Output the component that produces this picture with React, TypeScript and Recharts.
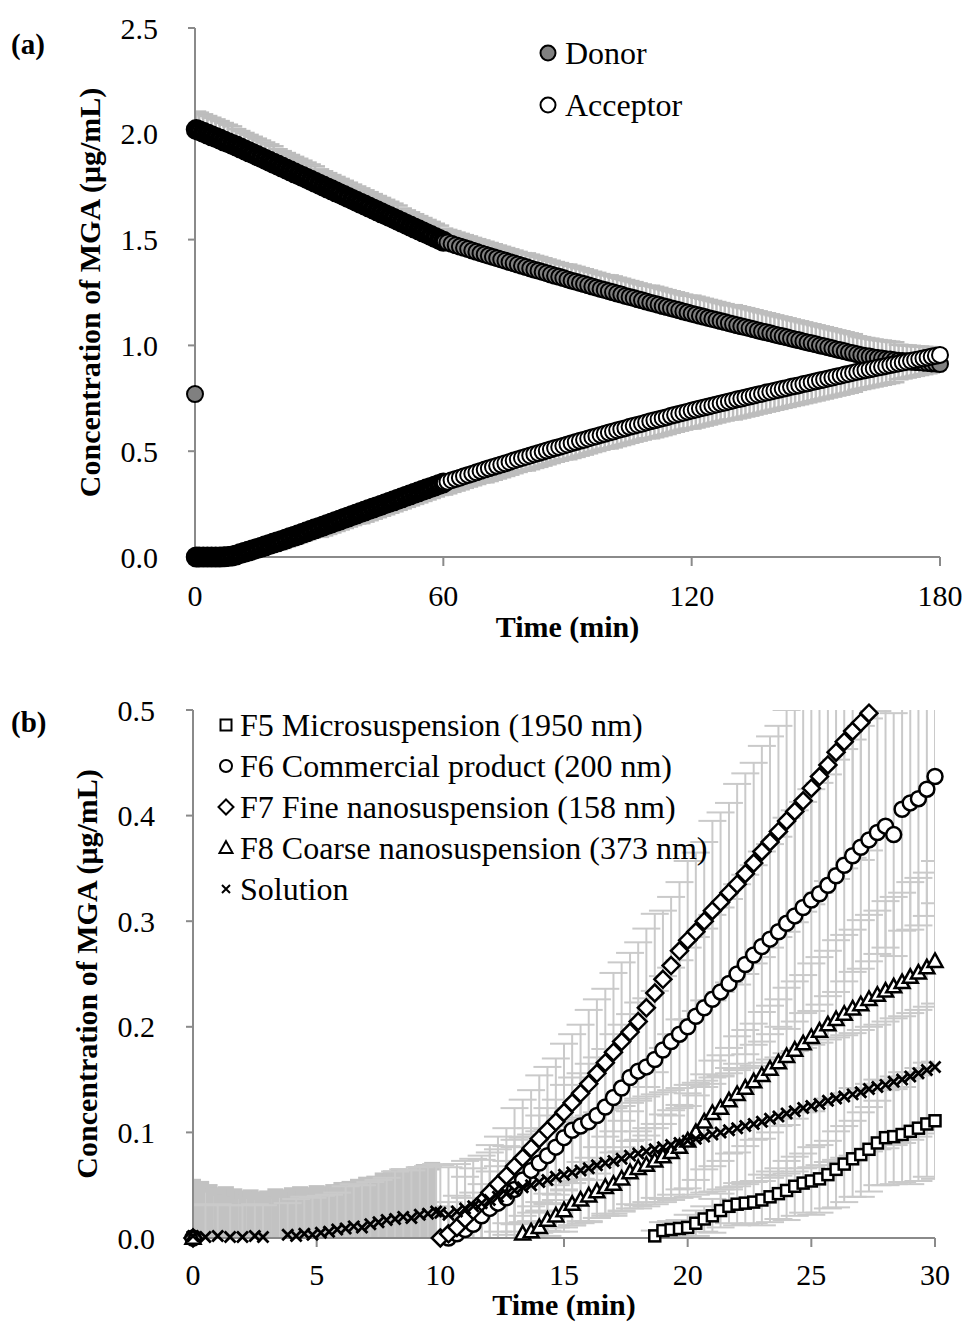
import { ScatterChart, Scatter, XAxis, YAxis, ErrorBar } from "recharts"

const FONT = '"Liberation Serif", "Times New Roman", serif'
const AXIS = "#8a8a8a"
const BAR_A = "#bdbdbd"
const BAR_B = "#cacaca"

// ---------- (a) donor / acceptor, about one reading a minute ----------
const aTime = [
  0, 0.3,
  1, 2, 3, 4, 5, 6, 7, 8, 9, 10,
  11, 12, 13, 14, 15, 16, 17, 18, 19, 20,
  21, 22, 23, 24, 25, 26, 27, 28, 29, 30,
  31, 32, 33, 34, 35, 36, 37, 38, 39, 40,
  41, 42, 43, 44, 45, 46, 47, 48, 49, 50,
  51, 52, 53, 54, 55, 56, 57, 58, 59, 60,
  61, 62, 63, 64, 65, 66, 67, 68, 69, 70,
  71, 72, 73, 74, 75, 76, 77, 78, 79, 80,
  81, 82, 83, 84, 85, 86, 87, 88, 89, 90,
  91, 92, 93, 94, 95, 96, 97, 98, 99, 100,
  101, 102, 103, 104, 105, 106, 107, 108, 109, 110,
  111, 112, 113, 114, 115, 116, 117, 118, 119, 120,
  121, 122, 123, 124, 125, 126, 127, 128, 129, 130,
  131, 132, 133, 134, 135, 136, 137, 138, 139, 140,
  141, 142, 143, 144, 145, 146, 147, 148, 149, 150,
  151, 152, 153, 154, 155, 156, 157, 158, 159, 160,
  161, 162, 163, 164, 165, 166, 167, 168, 169, 170,
  171, 172, 173, 174, 175, 176, 177, 178, 179, 180,
]

const donorConc = [
  0.77, 2.02,
  2.015, 2.007, 1.999, 1.991, 1.983, 1.975, 1.966, 1.958, 1.95, 1.942,
  1.933, 1.924, 1.915, 1.906, 1.897, 1.888, 1.879, 1.87, 1.861, 1.852,
  1.843, 1.834, 1.825, 1.816, 1.807, 1.798, 1.789, 1.78, 1.771, 1.762,
  1.753, 1.744, 1.735, 1.726, 1.717, 1.708, 1.699, 1.69, 1.681, 1.672,
  1.663, 1.654, 1.645, 1.636, 1.627, 1.618, 1.609, 1.6, 1.591, 1.582,
  1.573, 1.564, 1.555, 1.546, 1.537, 1.528, 1.519, 1.51, 1.501, 1.492,
  1.486, 1.48, 1.473, 1.467, 1.461, 1.455, 1.448, 1.442, 1.436, 1.43,
  1.424, 1.418, 1.412, 1.406, 1.4, 1.394, 1.388, 1.382, 1.376, 1.37,
  1.364, 1.358, 1.353, 1.347, 1.341, 1.335, 1.329, 1.324, 1.318, 1.312,
  1.306, 1.301, 1.295, 1.29, 1.284, 1.278, 1.273, 1.267, 1.262, 1.256,
  1.251, 1.245, 1.24, 1.234, 1.229, 1.224, 1.218, 1.213, 1.207, 1.202,
  1.197, 1.192, 1.186, 1.181, 1.176, 1.171, 1.166, 1.16, 1.155, 1.15,
  1.145, 1.14, 1.135, 1.13, 1.125, 1.12, 1.115, 1.11, 1.105, 1.1,
  1.095, 1.09, 1.086, 1.081, 1.076, 1.071, 1.066, 1.062, 1.057, 1.052,
  1.047, 1.043, 1.038, 1.033, 1.028, 1.024, 1.019, 1.014, 1.01, 1.005,
  1.0, 0.996, 0.991, 0.986, 0.981, 0.977, 0.972, 0.967, 0.963, 0.958,
  0.954, 0.95, 0.947, 0.943, 0.94, 0.938, 0.935, 0.933, 0.93, 0.928,
  0.926, 0.925, 0.923, 0.921, 0.92, 0.918, 0.917, 0.915, 0.914, 0.912,
]

const acceptorConc = [
  0, 0,
  0, 0, 0, 0, 0, 0, 0.001, 0.002, 0.005, 0.01,
  0.016, 0.022, 0.028, 0.034, 0.04, 0.046, 0.053, 0.059, 0.066, 0.072,
  0.078, 0.085, 0.092, 0.098, 0.105, 0.112, 0.119, 0.126, 0.133, 0.14,
  0.147, 0.154, 0.161, 0.168, 0.175, 0.182, 0.189, 0.196, 0.203, 0.21,
  0.217, 0.224, 0.231, 0.238, 0.245, 0.252, 0.259, 0.266, 0.273, 0.28,
  0.287, 0.294, 0.301, 0.308, 0.315, 0.322, 0.329, 0.336, 0.343, 0.35,
  0.356, 0.363, 0.369, 0.375, 0.382, 0.388, 0.394, 0.4, 0.407, 0.413,
  0.419, 0.425, 0.431, 0.437, 0.443, 0.449, 0.456, 0.462, 0.468, 0.474,
  0.48, 0.486, 0.491, 0.497, 0.503, 0.509, 0.515, 0.52, 0.526, 0.532,
  0.538, 0.543, 0.549, 0.554, 0.56, 0.566, 0.571, 0.577, 0.582, 0.588,
  0.593, 0.599, 0.604, 0.609, 0.615, 0.62, 0.625, 0.63, 0.636, 0.641,
  0.646, 0.651, 0.656, 0.661, 0.667, 0.672, 0.677, 0.682, 0.687, 0.692,
  0.697, 0.702, 0.706, 0.711, 0.716, 0.721, 0.726, 0.73, 0.735, 0.74,
  0.745, 0.749, 0.754, 0.758, 0.763, 0.768, 0.772, 0.777, 0.781, 0.786,
  0.79, 0.795, 0.799, 0.804, 0.808, 0.812, 0.817, 0.821, 0.826, 0.83,
  0.835, 0.839, 0.844, 0.848, 0.853, 0.857, 0.862, 0.866, 0.871, 0.875,
  0.879, 0.883, 0.887, 0.891, 0.895, 0.899, 0.903, 0.907, 0.911, 0.915,
  0.919, 0.923, 0.927, 0.931, 0.935, 0.939, 0.943, 0.947, 0.951, 0.955,
]

// SD read per 10-min stretch (0-9, 10-19, ... 170-180); donor bars point up, acceptor bars down
const donorSd = [0.085, 0.08, 0.075, 0.07, 0.07, 0.065, 0.06, 0.06, 0.065, 0.07, 0.075, 0.08, 0.085, 0.09, 0.09, 0.09, 0.085, 0.075, 0.06]
const acceptorSd = [0.005, 0.02, 0.035, 0.045, 0.05, 0.05, 0.055, 0.06, 0.065, 0.07, 0.075, 0.08, 0.085, 0.09, 0.09, 0.09, 0.085, 0.075, 0.065]

const aXTicks = [0, 60, 120, 180]
const aYTicks = [0, 0.5, 1, 1.5, 2, 2.5]

// ---------- (b) formulations, readings every 20 s from 10 min ----------
const bTime = [
  10, 10.33, 10.67, 11, 11.33, 11.67, 12, 12.33, 12.67, 13,
  13.33, 13.67, 14, 14.33, 14.67, 15, 15.33, 15.67, 16, 16.33,
  16.67, 17, 17.33, 17.67, 18, 18.33, 18.67, 19, 19.33, 19.67,
  20, 20.33, 20.67, 21, 21.33, 21.67, 22, 22.33, 22.67, 23,
  23.33, 23.67, 24, 24.33, 24.67, 25, 25.33, 25.67, 26, 26.33,
  26.67, 27, 27.33, 27.67, 28, 28.33, 28.67, 29, 29.33, 29.67,
  30,
]

// each formulation: a reading at 0 min, then from its lag time on
const f5Time = [0, ...bTime.slice(26)]
const f5Conc = [
  0,
  0.002, 0.007, 0.008, 0.009, 0.01, 0.014, 0.018, 0.021, 0.026, 0.03,
  0.032, 0.033, 0.034, 0.036, 0.039, 0.042, 0.045, 0.049, 0.052, 0.054,
  0.056, 0.06, 0.065, 0.07, 0.075, 0.079, 0.084, 0.09, 0.095, 0.096,
  0.098, 0.101, 0.104, 0.108, 0.111,
]

const f6Time = [0, ...bTime.slice(1)]
const f6Conc = [
  0,
  0, 0.004, 0.008, 0.013, 0.021, 0.028, 0.033, 0.038, 0.046, 0.055,
  0.064, 0.071, 0.078, 0.086, 0.095, 0.102, 0.106, 0.11, 0.116, 0.124,
  0.133, 0.142, 0.152, 0.158, 0.162, 0.169, 0.178, 0.186, 0.193, 0.2,
  0.21, 0.218, 0.226, 0.233, 0.241, 0.25, 0.259, 0.268, 0.276, 0.283,
  0.29, 0.298, 0.305, 0.313, 0.32, 0.326, 0.334, 0.343, 0.353, 0.362,
  0.37, 0.377, 0.384, 0.39, 0.382, 0.406, 0.412, 0.416, 0.425, 0.437,
]

const f7Time = [0, ...bTime.slice(0, 53)]
const f7Conc = [
  0,
  0, 0.004, 0.01, 0.018, 0.026, 0.034, 0.043, 0.051, 0.059, 0.068,
  0.076, 0.085, 0.094, 0.102, 0.11, 0.119, 0.128, 0.137, 0.146, 0.156,
  0.166, 0.176, 0.186, 0.195, 0.205, 0.218, 0.232, 0.245, 0.258, 0.272,
  0.282, 0.29, 0.3, 0.31, 0.318, 0.327, 0.335, 0.345, 0.355, 0.366,
  0.375, 0.385, 0.395, 0.404, 0.414, 0.426, 0.437, 0.448, 0.46, 0.47,
  0.48, 0.488, 0.497,
]

const f8Time = [0, ...bTime.slice(10)]
const f8Conc = [
  0,
  0.004, 0.006, 0.01, 0.017, 0.021, 0.026, 0.032, 0.036, 0.04, 0.044,
  0.048, 0.051, 0.056, 0.062, 0.066, 0.069, 0.073, 0.077, 0.081, 0.086,
  0.092, 0.1, 0.11, 0.118, 0.123, 0.13, 0.136, 0.142, 0.148, 0.154,
  0.16, 0.166, 0.172, 0.178, 0.184, 0.19, 0.196, 0.202, 0.207, 0.212,
  0.217, 0.221, 0.226, 0.23, 0.234, 0.238, 0.242, 0.247, 0.251, 0.256,
  0.262,
]

const solEarlyTime = [0, 0.5, 1, 1.5, 2, 2.5, 2.83, 3.83, 4.17, 4.5, 4.83, 5.17, 5.5, 5.83, 6.17, 6.5, 6.83, 7.17, 7.5, 7.83, 8.17, 8.5, 8.83, 9.17, 9.5, 9.83]
const solEarlyConc = [0.002, 0.001, 0.002, 0.001, 0.001, 0.002, 0.001, 0.003, 0.002, 0.004, 0.003, 0.005, 0.006, 0.008, 0.009, 0.011, 0.01, 0.013, 0.015, 0.017, 0.018, 0.02, 0.019, 0.022, 0.023, 0.025]
const solLateConc = [
  0.024, 0.022, 0.025, 0.028, 0.03, 0.033, 0.036, 0.039, 0.042, 0.045,
  0.048, 0.05, 0.053, 0.055, 0.058, 0.06, 0.062, 0.064, 0.066, 0.069,
  0.071, 0.073, 0.075, 0.078, 0.08, 0.082, 0.084, 0.086, 0.088, 0.09,
  0.092, 0.094, 0.096, 0.098, 0.1, 0.102, 0.104, 0.106, 0.108, 0.11,
  0.113, 0.115, 0.118, 0.12, 0.123, 0.125, 0.127, 0.13, 0.132, 0.134,
  0.136, 0.138, 0.141, 0.143, 0.145, 0.148, 0.15, 0.153, 0.156, 0.159,
  0.162,
]

// SD read per whole minute (index = minute 0..30)
const f5Sd = [0, 0, 0, 0, 0, 0, 0, 0, 0, 0, 0, 0, 0, 0, 0, 0, 0, 0, 0.005, 0.008, 0.012, 0.016, 0.02, 0.024, 0.028, 0.032, 0.036, 0.04, 0.045, 0.05, 0.055]
const f6Sd = [0, 0, 0, 0, 0, 0, 0, 0, 0, 0, 0.02, 0.03, 0.035, 0.04, 0.045, 0.05, 0.055, 0.06, 0.065, 0.07, 0.075, 0.08, 0.085, 0.09, 0.1, 0.105, 0.11, 0.115, 0.115, 0.12, 0.12]
const f7Sd = [0, 0, 0, 0, 0, 0, 0, 0, 0, 0, 0.03, 0.04, 0.045, 0.055, 0.06, 0.065, 0.07, 0.075, 0.075, 0.065, 0.075, 0.085, 0.095, 0.1, 0.105, 0.11, 0.12, 0.13, 0.13, 0.13, 0.13]
const f8Sd = [0, 0, 0, 0, 0, 0, 0, 0, 0, 0, 0, 0, 0, 0.01, 0.015, 0.02, 0.025, 0.03, 0.035, 0.04, 0.045, 0.05, 0.055, 0.06, 0.065, 0.07, 0.075, 0.08, 0.085, 0.09, 0.095]
const solSd = [0.03, 0.03, 0.03, 0.03, 0.035, 0.035, 0.04, 0.04, 0.045, 0.045, 0.045, 0.045, 0.045, 0.048, 0.048, 0.05, 0.05, 0.05, 0.052, 0.052, 0.053, 0.054, 0.055, 0.056, 0.057, 0.058, 0.058, 0.059, 0.06, 0.06, 0.06]

// pooled SD of the near-zero readings before 10 min (the grey block)
const blockTime = [0, 0.33, 0.67, 1, 1.33, 1.67, 2, 2.33, 2.67, 3, 3.33, 3.67, 4, 4.33, 4.67, 5, 5.33, 5.67, 6, 6.33, 6.67, 7, 7.33, 7.67, 8, 8.33, 8.67, 9, 9.33, 9.67]
const blockSd = [0.052, 0.05, 0.047, 0.044, 0.045, 0.043, 0.041, 0.042, 0.04, 0.041, 0.043, 0.042, 0.044, 0.045, 0.044, 0.046, 0.045, 0.047, 0.049, 0.05, 0.052, 0.054, 0.055, 0.058, 0.06, 0.062, 0.061, 0.064, 0.066, 0.068]

const bXTicks = [0, 5, 10, 15, 20, 25, 30]
const bYTicks = [0, 0.1, 0.2, 0.3, 0.4, 0.5]

type Row = { t: number; c: number; sd: number | number[] }

const donorRows: Row[] = aTime.map((t, i) => ({ t, c: donorConc[i], sd: [0, donorSd[Math.floor(t / 10)]] }))
const acceptorRows: Row[] = aTime.map((t, i) => ({ t, c: acceptorConc[i], sd: [acceptorSd[Math.floor(t / 10)], 0] }))

const perMinute = (times: number[], conc: number[], sd: number[]): Row[] =>
  times.map((t, i) => ({ t, c: conc[i], sd: sd[Math.floor(t + 0.001)] }))

const f5Rows = perMinute(f5Time, f5Conc, f5Sd)
const f6Rows = perMinute(f6Time, f6Conc, f6Sd)
const f7Rows = perMinute(f7Time, f7Conc, f7Sd)
const f8Rows = perMinute(f8Time, f8Conc, f8Sd)
const solRows = perMinute([...solEarlyTime, ...bTime], [...solEarlyConc, ...solLateConc], solSd)
const blockRows: Row[] = blockTime.map((t, i) => ({ t, c: 0, sd: blockSd[i] }))

const withSd = (rows: Row[]) => rows.filter((r) => (typeof r.sd === "number" ? r.sd > 0 : true))

// ---------- markers ----------
function mark(kind: string, cx: number, cy: number, s: number, sw: number, fill = "#fff") {
  const ink = { fill, stroke: "#000", strokeWidth: sw }
  switch (kind) {
    case "square":
      return <rect x={cx - s} y={cy - s} width={2 * s} height={2 * s} {...ink} />
    case "diamond":
      return <path d={`M${cx},${cy - s}L${cx + s},${cy}L${cx},${cy + s}L${cx - s},${cy}Z`} {...ink} />
    case "triangle":
      return <path d={`M${cx},${cy - s * 1.05}L${cx + s},${cy + s * 0.75}L${cx - s},${cy + s * 0.75}Z`} {...ink} />
    case "x":
      return <path d={`M${cx - s},${cy - s}L${cx + s},${cy + s}M${cx + s},${cy - s}L${cx - s},${cy + s}`} fill="none" stroke="#000" strokeWidth={sw} />
    default:
      return <circle cx={cx} cy={cy} r={s} {...ink} />
  }
}

const noMark = () => <g />

// the first hour is sampled so densely that the rims merge into a black band
const aDot = (fill: string) => (p: any) => {
  const t = p.payload?.t ?? 0
  return mark("circle", p.cx, p.cy, 8, t > 0 && t <= 60 ? 5 : 2, fill)
}

const bMark = (kind: string, s: number, sw = 2.5) => (p: any) => mark(kind, p.cx, p.cy, s, sw)

const tickStyle = { fill: "#000", fontSize: 30, fontFamily: FONT }
const titleStyle = { fill: "#000", fontSize: 30, fontFamily: FONT, fontWeight: 700, textAnchor: "middle" as const }
const axisLine = { stroke: AXIS, strokeWidth: 2 }

// error bars live in a twin chart whose box is clipped to the plot area, like the axis limits do in the original
function BarLayer({ w, h, m, xDomain, yDomain, children }: any) {
  const clip = `inset(${m.top}px ${m.right}px ${m.bottom}px ${m.left}px)`
  return (
    <div style={{ position: "absolute", left: 0, top: 0, width: w, height: h, clipPath: clip }}>
      <ScatterChart width={w} height={h} margin={m}>
        <XAxis type="number" dataKey="t" domain={xDomain} hide allowDataOverflow />
        <YAxis type="number" dataKey="c" domain={yDomain} hide allowDataOverflow />
        {children}
      </ScatterChart>
    </div>
  )
}

function PanelA() {
  return (
    <div style={{ position: "relative", width: 968, height: 700 }}>
      <BarLayer w={968} h={700} m={{ top: 28, right: 28, bottom: 143, left: 195 }} xDomain={[0, 180]} yDomain={[0, 2.5]}>
        <Scatter data={donorRows.slice(1)} shape={noMark} isAnimationActive={false}>
          <ErrorBar dataKey="sd" direction="y" width={10} stroke={BAR_A} strokeWidth={2.5} isAnimationActive={false} />
        </Scatter>
        <Scatter data={acceptorRows} shape={noMark} isAnimationActive={false}>
          <ErrorBar dataKey="sd" direction="y" width={10} stroke={BAR_A} strokeWidth={2.5} isAnimationActive={false} />
        </Scatter>
      </BarLayer>
      <div style={{ position: "absolute", left: 0, top: 0 }}>
        <ScatterChart width={968} height={700} margin={{ top: 28, right: 28, bottom: 0, left: 0 }}>
          <XAxis
            type="number"
            dataKey="t"
            domain={[0, 180]}
            ticks={aXTicks}
            axisLine={axisLine}
            tickLine={axisLine}
            tickSize={9}
            tickMargin={19}
            tick={tickStyle}
            height={143}
            label={{ value: "Time (min)", position: "insideTop", offset: 59, style: titleStyle }}
          />
          <YAxis
            type="number"
            dataKey="c"
            domain={[0, 2.5]}
            ticks={aYTicks}
            tickFormatter={(v: number) => v.toFixed(1)}
            axisLine={axisLine}
            tickLine={axisLine}
            tickSize={7}
            tickMargin={30}
            tick={tickStyle}
            width={195}
            label={{ value: "Concentration of MGA (μg/mL)", angle: -90, position: "insideLeft", offset: 89, style: titleStyle }}
          />
          <Scatter name="Donor" data={donorRows} shape={aDot("#808080")} isAnimationActive={false} />
          <Scatter name="Acceptor" data={acceptorRows} shape={aDot("#ffffff")} isAnimationActive={false} />
        </ScatterChart>
      </div>
    </div>
  )
}

function PanelB() {
  const bar = (rows: Row[], key: string) => (
    <Scatter key={key} data={withSd(rows)} shape={noMark} isAnimationActive={false}>
      <ErrorBar dataKey="sd" direction="y" width={14} stroke={BAR_B} strokeWidth={2} isAnimationActive={false} />
    </Scatter>
  )
  return (
    <div style={{ position: "relative", width: 968, height: 645 }}>
      <BarLayer w={968} h={645} m={{ top: 30, right: 33, bottom: 87, left: 193 }} xDomain={[0, 30]} yDomain={[0, 0.5]}>
        <Scatter data={blockRows} shape={noMark} isAnimationActive={false}>
          <ErrorBar dataKey="sd" direction="y" width={8} stroke="#c2c2c2" strokeWidth={8.6} isAnimationActive={false} />
        </Scatter>
        {bar(f5Rows, "e5")}
        {bar(f6Rows, "e6")}
        {bar(f7Rows, "e7")}
        {bar(f8Rows, "e8")}
        {bar(solRows, "es")}
      </BarLayer>
      <div style={{ position: "absolute", left: 0, top: 0 }}>
        <ScatterChart width={968} height={645} margin={{ top: 30, right: 33, bottom: 0, left: 0 }}>
          <XAxis
            type="number"
            dataKey="t"
            domain={[0, 30]}
            ticks={bXTicks}
            axisLine={axisLine}
            tickLine={axisLine}
            tickSize={9}
            tickMargin={17}
            tick={tickStyle}
            height={87}
            label={{ value: "Time (min)", position: "insideTop", offset: 56, style: titleStyle }}
          />
          <YAxis
            type="number"
            dataKey="c"
            domain={[0, 0.5]}
            ticks={bYTicks}
            tickFormatter={(v: number) => v.toFixed(1)}
            axisLine={axisLine}
            tickLine={axisLine}
            tickSize={7}
            tickMargin={31}
            tick={tickStyle}
            width={193}
            label={{ value: "Concentration of MGA (μg/mL)", angle: -90, position: "insideLeft", offset: 86, style: titleStyle }}
          />
          <Scatter name="F5" data={f5Rows} shape={bMark("square", 5.5)} isAnimationActive={false} />
          <Scatter name="F6" data={f6Rows} shape={bMark("circle", 7.5)} isAnimationActive={false} />
          <Scatter name="F7" data={f7Rows} shape={bMark("diamond", 8.5)} isAnimationActive={false} />
          <Scatter name="F8" data={f8Rows} shape={bMark("triangle", 7.5)} isAnimationActive={false} />
          <Scatter name="Solution" data={solRows} shape={bMark("x", 5.5, 2.8)} isAnimationActive={false} />
        </ScatterChart>
      </div>
    </div>
  )
}

function Key({ x, y, icon, label, size, gap }: { x: number; y: number; icon: any; label: string; size: number; gap: number }) {
  return (
    <div
      style={{
        position: "absolute",
        left: x - 12,
        top: y - 20,
        height: 40,
        display: "flex",
        alignItems: "center",
        whiteSpace: "nowrap",
        fontSize: size,
        lineHeight: "40px",
      }}
    >
      <svg width={24} height={24} viewBox="-12 -12 24 24" style={{ flex: "none" }}>
        {icon}
      </svg>
      <span style={{ marginLeft: gap }}>{label}</span>
    </div>
  )
}

const legendB = [
  { kind: "square", s: 5.5, label: "F5 Microsuspension (1950 nm)" },
  { kind: "circle", s: 6, label: "F6 Commercial product (200 nm)" },
  { kind: "diamond", s: 7.5, label: "F7 Fine nanosuspension (158 nm)" },
  { kind: "triangle", s: 6.5, label: "F8 Coarse nanosuspension (373 nm)" },
  { kind: "x", s: 4, label: "Solution" },
]
const legendBRowY = [725, 766, 807, 848, 889]

export default function App() {
  const panelTag = (text: string, y: number) => (
    <div style={{ position: "absolute", left: 11, top: y - 20, lineHeight: "40px", fontSize: 29, fontWeight: 700 }}>{text}</div>
  )
  return (
    <div
      style={{
        position: "absolute",
        left: 0,
        top: 0,
        width: 968,
        height: 1325,
        background: "#fff",
        color: "#000",
        fontFamily: FONT,
        overflow: "hidden",
      }}
    >
      <div style={{ position: "absolute", left: 0, top: 0 }}>
        <PanelA />
      </div>
      <div style={{ position: "absolute", left: 0, top: 680 }}>
        <PanelB />
      </div>

      {panelTag("(a)", 44)}
      {panelTag("(b)", 722)}

      <Key x={548} y={53} icon={mark("circle", 0, 0, 7.5, 2, "#808080")} label="Donor" size={32} gap={5} />
      <Key x={548} y={105} icon={mark("circle", 0, 0, 7.5, 2, "#ffffff")} label="Acceptor" size={32} gap={5} />

      {legendB.map((k, i) => (
        <Key key={k.label} x={226} y={legendBRowY[i]} icon={mark(k.kind, 0, 0, k.s, 2)} label={k.label} size={32} gap={2} />
      ))}
    </div>
  )
}
